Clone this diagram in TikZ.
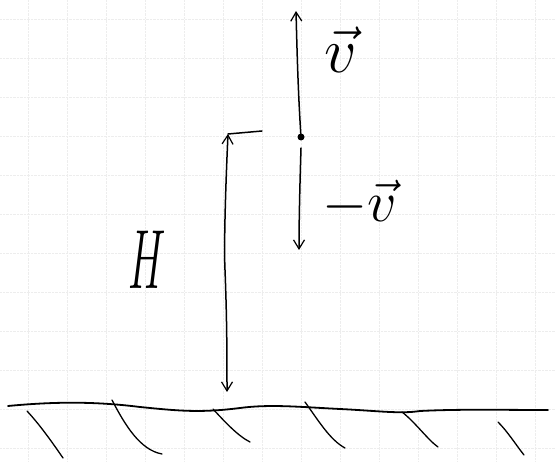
\RequirePackage{fix-cm}
\documentclass[tikz,border=0pt]{standalone}
\usetikzlibrary{arrows.meta}
\begin{document}
\begin{tikzpicture}[x=1pt,y=-1pt,
  ink/.style={line width=1.5pt,line cap=round,line join=round},
  hatch/.style={line width=1.3pt,line cap=round},
  tip/.style={-{Straight Barb[length=9pt,width=11pt,line width=1.2pt]}},
  lbl/.style={font=\fontsize{64}{70}\selectfont, inner sep=0pt}]
\useasboundingbox (0,0) rectangle (555,462);
% faint graph-paper grid
\foreach \x in {28,67,...,540} \draw[black!7,densely dotted] (\x,0) -- (\x,462);
\foreach \y in {19,58,...,460} \draw[black!7,densely dotted] (0,\y) -- (555,\y);
% ground
\draw[ink,line width=1.8pt] (8,406) .. controls (60,401) and (100,402) .. (140,407)
  .. controls (180,411) and (200,413) .. (240,408)
  .. controls (270,404) and (300,407) .. (340,409)
  .. controls (380,411) and (400,414) .. (420,411)
  .. controls (460,409) and (500,410) .. (548,410);
\draw[hatch] (27,411) .. controls (40,425) and (52,442) .. (63,458);
\draw[hatch] (112,400) .. controls (125,425) and (140,450) .. (162,454);
\draw[hatch] (213,409) .. controls (225,422) and (238,436) .. (250,442);
\draw[hatch] (305,402) .. controls (318,420) and (330,440) .. (345,448);
\draw[hatch] (402,412) .. controls (415,422) and (428,440) .. (438,447);
\draw[hatch] (498,422) .. controls (508,432) and (516,445) .. (524,455);
% height H
\coordinate (htop) at (228,134);
\coordinate (hbot) at (227,392);
\coordinate (hend) at (262,131);
\draw[ink,{Straight Barb[length=9pt,width=11pt,line width=1.2pt]}-{Straight Barb[length=9pt,width=11pt,line width=1.2pt]}]
  (htop) .. controls (225,200) and (224,250) .. (225,270) .. controls (227,320) and (227,360) .. (hbot);
\draw[ink] (htop) -- (hend);
\node[lbl] (H) at (147,260) {\scalebox{0.5}[1]{\fontsize{84}{90}\selectfont$H$}};
% ball and velocities
\node[circle,fill=black,inner sep=0pt,minimum size=7pt] (ball) at (301,137) {};
\coordinate (vtop) at (296,11);
\coordinate (vbot) at (299,250);
\coordinate (dstart) at (301,148);
\draw[ink,tip] (ball) .. controls (298,90) and (297,50) .. (vtop);
\draw[ink,tip] (dstart) .. controls (300,180) and (299,220) .. (vbot);
\node[lbl] (v) at (341,50) {$\vec{v}$};
\node[lbl] (mv) at (360,203) {\fontsize{58}{64}\selectfont$-\vec{v}$};
\end{tikzpicture}
\end{document}
